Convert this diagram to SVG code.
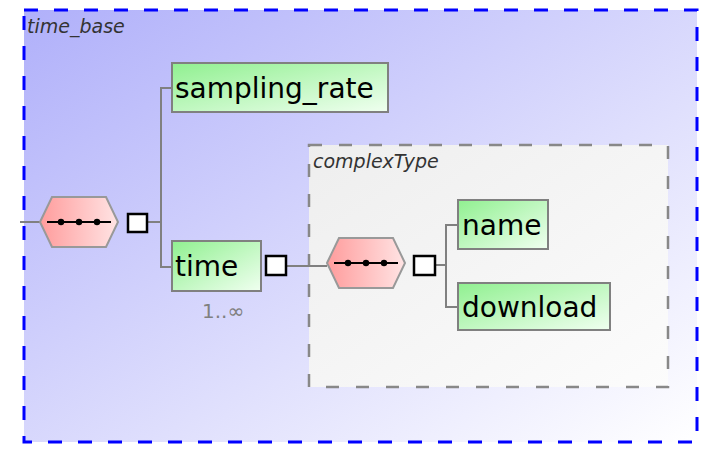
<svg xmlns="http://www.w3.org/2000/svg" width="707" height="453" viewBox="0 0 707 453">
  <style>
    .conn { stroke: #808080; stroke-width: 2; fill: none; }
    .elem { fill: url(#elemFill); stroke: #808080; stroke-width: 2; }
    .elabel { font-family: "DejaVu Sans", sans-serif; font-size: 28px; fill: #000; }
    .seq { fill: url(#seqFill); stroke: #999; stroke-width: 2; }
    .seqline { stroke: #000; stroke-width: 2; }
    .box { fill: #fff; stroke: #000; stroke-width: 2.5; }
    .title { font-family: "DejaVu Sans", sans-serif; font-style: italic; font-size: 19px; fill: #333; }
  </style>
  <defs>
    <linearGradient id="bgFill" x1="0" y1="0" x2="1" y2="1">
      <stop offset="0" stop-color="#b0b0fa"/>
      <stop offset="1" stop-color="#ffffff"/>
    </linearGradient>
    <linearGradient id="ctFill" x1="0" y1="0" x2="1" y2="1">
      <stop offset="0" stop-color="#eeeeee"/>
      <stop offset="1" stop-color="#fcfcfc"/>
    </linearGradient>
    <linearGradient id="elemFill" x1="0" y1="0" x2="1" y2="1">
      <stop offset="0" stop-color="#90f090"/>
      <stop offset="1" stop-color="#f0fff0"/>
    </linearGradient>
    <linearGradient id="seqFill" x1="0" y1="0" x2="1" y2="0">
      <stop offset="0" stop-color="#ff9c9c"/>
      <stop offset="1" stop-color="#ffe4e4"/>
    </linearGradient>
  </defs>

  <rect width="707" height="453" fill="#ffffff"/>

  <!-- time_base complex element -->
  <g id="time_base">
    <rect x="24" y="10" width="673" height="432" fill="url(#bgFill)" stroke="#0000ff" stroke-width="3" stroke-dasharray="14 16"/>
    <text class="title" x="27" y="33">time_base</text>
  </g>

  <!-- anonymous complexType of time -->
  <g id="complexType">
    <rect x="309" y="145" width="359" height="242" fill="url(#ctFill)" stroke="#888" stroke-width="2.5" stroke-dasharray="13 17"/>
    <text class="title" x="313" y="168">complexType</text>
  </g>

  <g id="connectors">
    <line class="conn" x1="20" y1="222" x2="40" y2="222"/>
    <line class="conn" x1="148" y1="222" x2="161" y2="222"/>
    <polyline class="conn" points="172,88 161,88 161,267 172,267"/>
    <line class="conn" x1="287" y1="266" x2="327" y2="266"/>
    <line class="conn" x1="436" y1="265" x2="446" y2="265"/>
    <polyline class="conn" points="458,225 446,225 446,307 458,307"/>
  </g>

  <g id="sequence1">
    <polygon class="seq" points="40,222 52,197 106,197 118,222 106,247 52,247"/>
    <line class="seqline" x1="47" y1="222" x2="111" y2="222"/>
    <circle cx="61" cy="222" r="3.2"/>
    <circle cx="79" cy="222" r="3.2"/>
    <circle cx="97" cy="222" r="3.2"/>
    <rect class="box" x="128" y="214" width="19" height="18"/>
  </g>

  <g id="sampling_rate">
    <rect class="elem" x="172" y="63" width="216" height="49"/>
    <text class="elabel" x="175" y="98">sampling_rate</text>
  </g>

  <g id="time">
    <rect class="elem" x="172" y="241" width="89" height="50"/>
    <text class="elabel" x="175" y="276">time</text>
    <rect class="box" x="266" y="256" width="20" height="19"/>
    <text x="202" y="318" font-family="DejaVu Sans, sans-serif" font-size="20" fill="#808080">1..∞</text>
  </g>

  <g id="sequence2">
    <polygon class="seq" points="327,263 339,238 393,238 405,263 393,288 339,288"/>
    <line class="seqline" x1="334" y1="263" x2="398" y2="263"/>
    <circle cx="348" cy="263" r="3.2"/>
    <circle cx="366" cy="263" r="3.2"/>
    <circle cx="384" cy="263" r="3.2"/>
    <rect class="box" x="414" y="256" width="21" height="19"/>
  </g>

  <g id="name">
    <rect class="elem" x="458" y="200" width="90" height="49"/>
    <text class="elabel" x="462" y="235">name</text>
  </g>

  <g id="download">
    <rect class="elem" x="458" y="283" width="152" height="47"/>
    <text class="elabel" x="462" y="317">download</text>
  </g>
</svg>
